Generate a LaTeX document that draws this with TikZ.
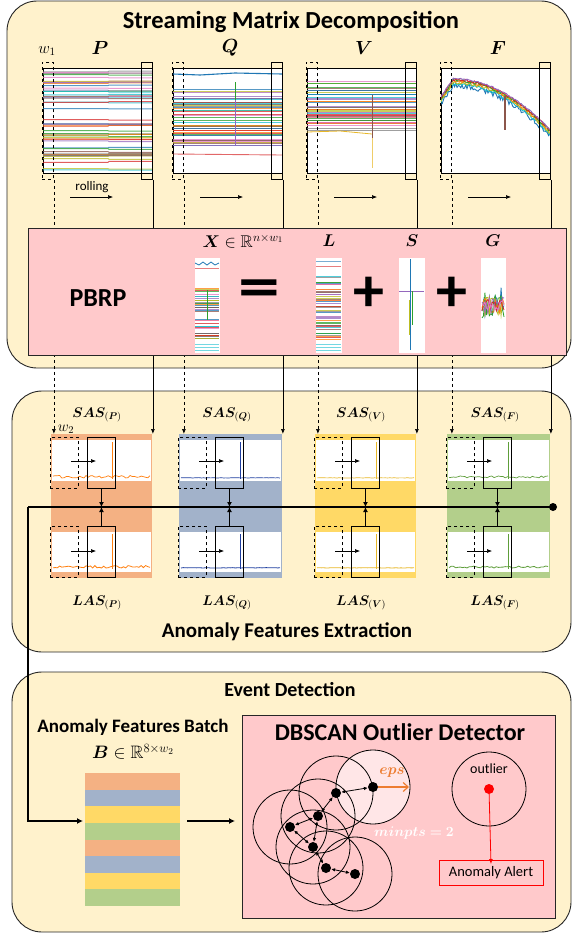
\documentclass[tikz,border=0pt]{standalone}
\usepackage{fix-cm}
\usepackage{amsmath,amssymb,bm}
\usepackage{fontspec}
\setmainfont{Carlito}
\usetikzlibrary{arrows.meta,positioning}

% default matplotlib cycle for the series
\definecolor{tc0}{HTML}{1F77B4}
\definecolor{tc1}{HTML}{FF7F0E}
\definecolor{tc2}{HTML}{2CA02C}
\definecolor{tc3}{HTML}{D62728}
\definecolor{tc4}{HTML}{9467BD}
\definecolor{tc5}{HTML}{8C564B}
\definecolor{tc6}{HTML}{E377C2}
\definecolor{tc7}{HTML}{7F7F7F}
\definecolor{tc8}{HTML}{BCBD22}
\definecolor{tc9}{HTML}{17BECF}
% stage and feature colours
\definecolor{stageBg}{HTML}{FFF2CC}
\definecolor{coreBg}{HTML}{FFC9CB}
\definecolor{featP}{HTML}{F4B183}
\definecolor{featQ}{HTML}{A2B2CA}
\definecolor{featV}{HTML}{FFD966}
\definecolor{featF}{HTML}{B3CF8B}
\definecolor{lineQ}{HTML}{1F3FA0}
\definecolor{lineV}{HTML}{E8B828}
\definecolor{lineF}{HTML}{5E9E3A}
\definecolor{epsOrange}{HTML}{ED7D31}

\tikzset{
  stage/.style={draw=black!85, fill=stageBg, line width=0.9pt, rounded corners=30pt},
  core/.style={draw=black!85, fill=coreBg, line width=0.9pt, anchor=north west, inner sep=0pt},
  stagetitle/.style={font=\fontsize{21}{23}\selectfont\bfseries},
  chart/.style={draw=black, line width=0.9pt, anchor=north west, inner sep=0pt,
    minimum width=109pt, minimum height=105pt},
  thumb/.style={draw=black!80, line width=0.7pt, anchor=north west, inner sep=0pt,
    minimum width=24pt, minimum height=94pt},
  topwin/.style={draw=black, line width=0.9pt, anchor=north west, inner sep=0pt,
    minimum width=11pt, minimum height=117pt},
  topdash/.style={topwin, dashed},
  featwin/.style={draw=black, line width=0.9pt, anchor=north west, inner sep=0pt,
    minimum width=28pt, minimum height=51pt},
  featdash/.style={featwin, dashed},
  feed/.style={line width=0.7pt, -{Latex[length=5pt,width=4pt]}},
  slide/.style={line width=0.6pt, -{Latex[length=5pt,width=4pt]}},
  tobus/.style={line width=1.6pt, -{Latex[length=5pt,width=5pt]}},
  bus/.style={line width=1.8pt},
  lbl/.style={font=\fontsize{19}{21}\selectfont},
  feat/.style={font=\fontsize{14}{16}\selectfont},
  mat/.style={font=\fontsize{17}{19}\selectfont},
  opsign/.style={font=\fontsize{62}{62}\selectfont\bfseries},
  dot/.style={circle, fill=black, inner sep=0pt, minimum size=10pt},
  link/.style={line width=0.8pt, {Latex[length=4pt,width=3.5pt]}-{Latex[length=4pt,width=3.5pt]}},
}

\begin{document}
\begin{tikzpicture}[x=1pt, y=-1pt]
\useasboundingbox (0,0) rectangle (572,935);

% the three stages
\draw[stage] (7,1) rectangle (571,368);
\draw[stage] (12,391) rectangle (571,652);
\draw[stage] (12,672) rectangle (571,932);
\node[font=\fontsize{24.5}{26}\selectfont\bfseries] at (291,22) {Streaming Matrix Decomposition};
\node[stagetitle] at (287,632) {Anomaly Features Extraction};
\node[stagetitle, font=\fontsize{20}{22}\selectfont\bfseries] at (290,690) {Event Detection};

% ---- streams P, Q, V, F ----
\foreach \n/\x in {P/43, Q/173, V/307, F/441}{
  \node[chart, fill=white] (\n) at (\x,68) {};
  \node[lbl] at (\x+57,48) {$\boldsymbol{\n}$};
  \draw[slide] (\x+27,197) -- ++(43,0);
}
\node[font=\fontsize{16}{18}\selectfont] at (47,51) {$w_1$};
\node[font=\fontsize{13}{15}\selectfont] at (92,187) {rolling};

\pgfmathsetseed{17}
\begin{scope}
  \clip (P.north west) rectangle (P.south east);
  \foreach \i in {1,...,52}{
    \pgfmathsetmacro\yy{71+100*rnd}
    \pgfmathsetmacro\dd{1.6*rnd-0.8}
    \pgfmathtruncatemacro\cc{mod(\i,10)}
    \draw[tc\cc, opacity=0.75, line width=1pt] (43,\yy) -- (108,\yy) -- (109,\yy+\dd) -- (152,\yy+\dd);
  }
\end{scope}
\begin{scope}
  \clip (Q.north west) rectangle (Q.south east);
  \draw[tc0, line width=1.1pt] (173,74) -- (200,75) -- (235,73) -- (282,74);
  \foreach \i in {1,...,50}{
    \pgfmathsetmacro\yy{88+58*rnd}
    \pgfmathtruncatemacro\cc{mod(\i,10)}
    \draw[tc\cc, opacity=0.75, line width=1pt] (173,\yy) -- (282,\yy);
  }
  \draw[tc3, opacity=0.7, line width=0.9pt] (173,154) -- (282,155);
  \draw[tc2, line width=0.8pt] (235,82) -- (235,100);
  \draw[tc4, line width=0.8pt] (235,100) -- (235,145);
\end{scope}
\begin{scope}
  \clip (V.north west) rectangle (V.south east);
  \foreach \i in {1,...,46}{
    \pgfmathsetmacro\yy{80+50*rnd}
    \pgfmathtruncatemacro\cc{mod(\i,10)}
    \draw[tc\cc, opacity=0.75, line width=0.9pt] (307,\yy) -- (416,\yy);
  }
  \draw[lineV, line width=0.8pt] (307,132) -- (340,131) -- (372,134);
  \draw[tc5, line width=0.9pt] (372,95) -- (372,138);
  \draw[lineV!70, line width=1pt] (372,138) -- (372,168);
\end{scope}
\begin{scope}
  \clip (F.north west) rectangle (F.south east);
  \foreach \c/\dy/\nz in {tc0/3/5, tc9/2/3, tc8/1/3, tc1/0/2.5, tc2/-1/2.5, tc3/-1.5/2, tc4/-2/1.5}{
    \draw[\c, line width=0.9pt] plot[variable=\t, domain=0:110, samples=90]
      ({441+\t},{ifthenelse(\t<12, 98-1.5*\t, 80+0.0054*(\t-12)^2) + \dy + \nz*rnd});
  }
  \draw[tc5, line width=1.1pt] (505,96) -- (505,130);
\end{scope}

% sliding windows on the streams
\foreach \n/\x in {P/43, Q/173, V/307, F/441}{
  \node[topdash] (\n-td) at (\x-1,62) {};
  \node[topwin] (\n-tw) at (\x+98,62) {};
}

% ---- anomaly features ----
\coordinate (busL) at (28,507);
\coordinate (busR) at (553,507);
\foreach \n/\x/\sx/\lc/\amp in {P/43/51/tc1/2.5, Q/173/179/lineQ/0.4, V/307/315/lineV/0.3, F/441/447/lineF/2}{
  \pgfmathsetmacro\bw{\x+109-\sx}
  \node[anchor=north west, inner sep=0pt, minimum width=\bw, minimum height=144pt, fill=feat\n] (\n-blk) at (\sx,434) {};
  \fill[white] (\sx+1,440) rectangle (\x+108,481);
  \fill[white] (\sx+1,532) rectangle (\x+108,572);
  \pgfmathsetmacro\da{\sx+2}
  \pgfmathsetmacro\db{\x+107}
  \draw[\lc, line width=0.7pt] plot[variable=\t, domain=\da:\db, samples=45] (\t,{478-\amp*rnd});
  \draw[\lc, line width=0.8pt] plot[variable=\t, domain=\da:\db, samples=45] (\t,{568-\amp*rnd});
  \draw[\lc, line width=1pt] (\sx+61,479) -- (\sx+61,442);
  \draw[\lc, line width=1pt] (\sx+61,569) -- (\sx+61,534);
  \node[featdash] (\n-sd) at (\sx-1,437) {};
  \node[featwin] (\n-ss) at (\sx+36,437) {};
  \node[featdash] (\n-ld) at (\sx-1,526) {};
  \node[featwin] (\n-ls) at (\sx+36,526) {};
  \draw[slide] (\sx+20,461) -- (\sx+45,461);
  \draw[slide] (\sx+20,551) -- (\sx+45,551);
  \draw[tobus] (\n-ss.south) -- (\n-ss.south |- busL);
  \draw[tobus] (\n-ls.north) -- (\n-ls.north |- busL);
  \node[feat] at (\x+54,415) {$\boldsymbol{SAS}_{(\boldsymbol{\n})}$};
  \node[feat] at (\x+54,603) {$\boldsymbol{LAS}_{(\boldsymbol{\n})}$};
  % windows feeding the features
  \draw[feed, dashed] (\n-td.south east) -- (\n-td.south east |- \n-blk.north);
  \draw[feed] (\n-tw.south east) -- (\n-tw.south east |- \n-blk.north);
}
\node[font=\fontsize{15}{17}\selectfont] at (66,429) {$w_2$};
\draw[bus] (busL) -- (busR);
\fill (busR) circle (4pt);

% ---- PBRP ----
\node[core, minimum width=538pt, minimum height=127pt] (pbrp) at (28,228) {};
\node[font=\fontsize{26}{28}\selectfont\bfseries] at (98,298) {PBRP};
\node[thumb] (X) at (195,258) {};
\node[thumb, minimum width=25pt] (L) at (316,258) {};
\node[thumb, minimum width=25pt] (S) at (399,258) {};
\node[thumb] (G) at (481,258) {};
\node[mat] at (243,241) {$\boldsymbol{X}\in\mathbb{R}^{n\times w_1}$};
\node[mat] at (329,241) {$\boldsymbol{L}$};
\node[mat] at (412,241) {$\boldsymbol{S}$};
\node[mat] at (493,241) {$\boldsymbol{G}$};
\node[opsign] at (259,294) {\scalebox{1.35}[1]{=}};
\node[opsign] at (369,294) {+};
\node[opsign] at (452,294) {+};
\fill[white] (X.north west) rectangle (X.south east);
\fill[white] (L.north west) rectangle (L.south east);
\fill[white] (S.north west) rectangle (S.south east);
\fill[white] (G.north west) rectangle (G.south east);
\begin{scope}
  \clip (X.north west) rectangle (X.south east);
  \draw[tc0, line width=0.8pt] (195,263) -- (199,265) -- (203,262) -- (207,265) -- (211,262) -- (215,265) -- (219,263);
  \draw[tc3!60, line width=0.7pt] (195,268) -- (219,268);
  \foreach \i in {1,...,44}{
    \pgfmathsetmacro\yy{284+58*rnd}
    \pgfmathtruncatemacro\cc{mod(\i,10)}
    \draw[tc\cc, opacity=0.75, line width=1pt] (195,\yy) -- (219,\yy);
  }
  \foreach \yy in {344,347,350}{\draw[tc9!60, line width=0.8pt] (195,\yy) -- (219,\yy);}
  \draw[tc2, line width=0.7pt] (207,290) -- (207,320);
\end{scope}
\begin{scope}
  \clip (L.north west) rectangle (L.south east);
  \draw[tc0!60, line width=0.8pt] (316,261) -- (341,261);
  \draw[tc3!60, line width=0.7pt] (316,266) -- (341,266);
  \foreach \i in {1,...,48}{
    \pgfmathsetmacro\yy{276+66*rnd}
    \pgfmathtruncatemacro\cc{mod(\i,10)}
    \draw[tc\cc, opacity=0.75, line width=1pt] (316,\yy) -- (341,\yy);
  }
  \foreach \yy in {344,347,350}{\draw[tc9!60, line width=0.8pt] (316,\yy) -- (341,\yy);}
\end{scope}
\begin{scope}
  \clip (S.north west) rectangle (S.south east);
  \draw[tc4, line width=1pt] (399,291) -- (424,291);
  \draw[tc0, line width=0.8pt] (410,259) -- (410,350);
  \draw[tc2, line width=0.8pt] (412,291) -- (412,325);
  \draw[tc8, line width=0.7pt] (409,300) -- (409,335);
\end{scope}
\begin{scope}
  \clip (G.north west) rectangle (G.south east);
  \foreach \c/\h in {tc0/36, tc2/28, tc8/24, tc1/20, tc4/16, tc3/12, tc6/10}{
    \draw[\c, line width=0.8pt] plot[variable=\t, domain=482:504, samples=16] (\t,{305+\h*(rnd-0.5)});
  }
\end{scope}

% ---- event detection ----
\node[font=\fontsize{19}{21}\selectfont\bfseries] at (133,727) {Anomaly Features Batch};
\node[font=\fontsize{18}{20}\selectfont] at (133,752) {$\boldsymbol{B}\in\mathbb{R}^{8\times w_2}$};
\node[anchor=north west, inner sep=0pt, minimum width=95pt, minimum height=133pt] (batch) at (85,773) {};
\foreach \c [count=\k from 0] in {featP,featQ,featV,featF,featP,featQ,featV,featF}
  \fill[\c] (85,773+\k*16.625) rectangle (180,789.625+\k*16.625);
\coordinate (batchin) at (83,821);
\draw[bus, -{Latex[length=6pt,width=6pt]}] (busL) |- (batchin);

\node[core, minimum width=313pt, minimum height=203pt] (dbscan) at (242,715) {};
\draw[bus, -{Latex[length=6pt,width=6pt]}] ([xshift=7pt]batch.east |- batchin) -- ([xshift=-7pt]dbscan.west |- batchin);
\node[font=\fontsize{24}{26}\selectfont\bfseries] at (400,732) {DBSCAN Outlier Detector};

% core points and their eps-neighbourhoods
\foreach \k/\px/\py in {1/373/787, 2/336/793, 3/318/816, 4/290/827, 5/313/847, 6/326/868, 7/355/874}
  \coordinate (c\k) at (\px,\py);
\fill[white, opacity=0.55] (c1) circle[radius=37pt];
\foreach \k in {1,...,7}
  \draw[line width=0.8pt] (c\k) circle[radius=37pt];
\foreach \k in {1,...,7}
  \node[dot] (d\k) at (c\k) {};
\foreach \a/\b in {1/2, 2/3, 3/4, 3/5, 4/5, 5/6, 6/7}
  \draw[link] (d\a) -- (d\b);
\coordinate (epsend) at (409,787);
\draw[epsOrange, line width=1.2pt, -{Straight Barb[length=5pt,width=9pt]}] (d1) -- (epsend);
\node[epsOrange, font=\fontsize{15}{17}\selectfont] at (392,773) {$\boldsymbol{eps}$};
\node[white, font=\fontsize{14}{16}\selectfont] at (414,833) {$\boldsymbol{minpts=2}$};

% the outlier
\node[circle, fill=red, inner sep=0pt, minimum size=10pt] (out) at (489,789) {};
\draw[line width=0.8pt] (out) circle[radius=37pt];
\node[font=\fontsize{14}{16}\selectfont] at (489,769) {outlier};
\node[draw=red, line width=0.8pt, minimum width=104pt, minimum height=25pt, inner sep=0pt,
  font=\fontsize{14.5}{16}\selectfont] (alert) at (491,873) {Anomaly Alert};
\draw[red, line width=0.8pt, -{Latex[length=5pt,width=4pt]}] (out) -- ([yshift=-4pt]alert.north);

\end{tikzpicture}
\end{document}
